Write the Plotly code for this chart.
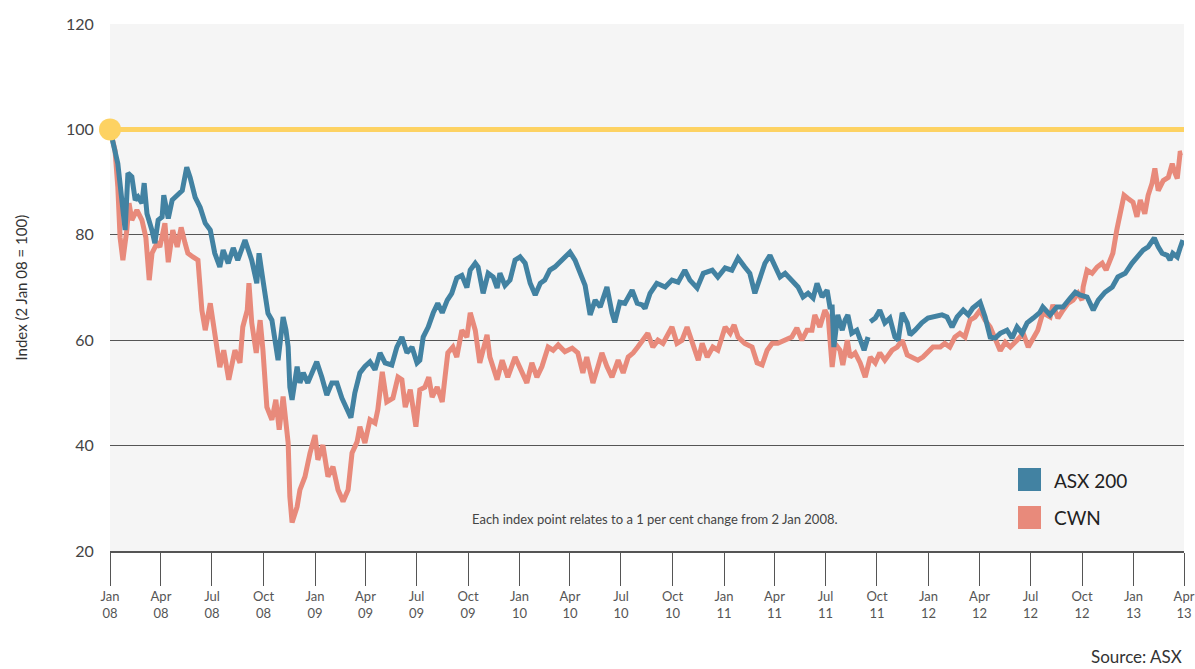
import pandas as pd
import plotly.graph_objects as go

# ---- data (days since 1 Jan 2008, index value) ----
asx_day = [0, 5, 14, 27, 32, 39, 45, 50, 57, 61, 66, 75, 80, 86, 93, 96, 104, 111, 120, 129,
           137, 143, 152, 161, 170, 179, 187, 196, 202, 211, 220, 228, 241, 253, 262, 266, 273, 282, 289, 295,
           300, 309, 314, 318, 321, 325, 334, 339, 345, 353, 361, 369, 378, 387, 396, 405, 414, 423, 430, 437,
           446, 455, 464, 473, 482, 491, 503, 512, 521, 530, 539, 548, 553, 559, 568, 577, 585, 593, 602, 610,
           619, 628, 637, 643, 652, 657, 666, 675, 684, 691, 696, 705, 714, 723, 732, 741, 750, 759, 768, 776,
           785, 794, 807, 821, 830, 839, 848, 857, 866, 875, 887, 896, 901, 910, 919, 932, 941, 950, 955, 964,
           976, 991, 1003, 1014, 1026, 1035, 1048, 1059, 1075, 1085, 1098, 1110, 1121, 1133, 1142, 1151, 1160, 1169, 1178, 1187,
           1196, 1205, 1217, 1228, 1237, 1246, 1255, 1262, 1271, 1280, 1285, 1289, 1292, 1299, 1307, 1312, 1317, 1324, 1333, 1339,
           1346, 1353, 1355, 1357, 1366, 1374, 1383, 1392, 1401, 1407, 1414, 1423, 1428, 1437, 1449, 1460, 1473, 1485, 1494, 1503,
           1512, 1523, 1532, 1540, 1553, 1562, 1571, 1580, 1589, 1601, 1610, 1619, 1628, 1637, 1648, 1660, 1665, 1678, 1690, 1701,
           1714, 1723, 1731, 1744, 1755, 1764, 1776, 1789, 1799, 1812, 1824, 1833, 1844, 1853, 1864, 1871, 1878, 1887, 1892, 1897,
           1905, 1910, 1915]
asx_val = [100, 97.9, 93.5, 80.9, 91.7, 91.0, 86.6, 87.2, 86.0, 89.8, 84.0, 80.8, 78.4, 82.8, 83.4, 87.5, 83.1, 86.6, 87.5, 88.4,
           92.8, 90.9, 87.1, 85.2, 82.2, 80.9, 76.5, 73.9, 77.1, 74.6, 77.5, 75.2, 79.0, 75.2, 70.8, 76.5, 71.4, 65.1, 63.8, 60.0,
           56.2, 64.4, 62.0, 58.7, 51.1, 48.7, 55.0, 51.9, 53.8, 51.9, 54.0, 55.9, 53.0, 49.6, 51.9, 51.9, 49.0, 46.8, 45.3, 50.0,
           53.8, 55.0, 55.9, 54.4, 57.6, 55.7, 55.3, 58.7, 60.6, 57.6, 58.7, 55.7, 56.2, 60.6, 62.5, 65.2, 67.0, 65.2, 67.6, 68.9,
           71.8, 72.3, 70.0, 73.3, 74.6, 73.9, 68.9, 72.7, 72.0, 69.9, 72.7, 70.4, 71.4, 75.2, 75.8, 74.6, 70.8, 68.6, 70.8, 71.4,
           73.3, 73.9, 75.2, 76.7, 75.2, 72.7, 70.4, 64.8, 67.6, 66.3, 70.1, 65.2, 63.4, 67.2, 67.0, 69.5, 67.0, 66.7, 66.0, 68.9,
           70.8, 70.1, 71.4, 71.0, 73.3, 71.4, 69.9, 72.7, 73.3, 72.0, 73.7, 73.3, 75.6, 73.9, 72.7, 68.9, 72.0, 74.6, 76.1, 73.9,
           72.0, 72.7, 71.4, 70.1, 68.2, 68.9, 68.0, 70.8, 68.2, 69.5, 66.3, 66.3, 58.7, 64.8, 61.9, 63.8, 64.8, 61.3, 61.9, 60.0,
           58.1, 60.6, None, 63.5, 64.2, 65.7, 63.3, 64.2, 60.6, 60.0, 65.2, 63.3, 61.0, 61.9, 63.3, 64.2, 64.4, 64.8, 64.4, 62.5,
           64.4, 65.7, 64.8, 66.1, 67.2, 64.4, 60.6, 60.4, 61.3, 61.9, 60.4, 62.5, 61.3, 63.3, 64.2, 65.3, 66.3, 64.8, 66.3, 66.3,
           68.0, 69.1, 68.6, 68.2, 65.7, 67.6, 69.1, 70.1, 72.0, 72.7, 74.6, 75.6, 77.1, 77.7, 79.4, 77.7, 76.5, 76.1, 75.2, 76.5,
           75.8, 77.5, 79.0]

cwn_day = [0, 9, 14, 18, 23, 30, 34, 39, 48, 57, 64, 70, 75, 84, 89, 98, 104, 112, 120, 127,
           134, 139, 148, 157, 164, 170, 179, 187, 196, 203, 212, 223, 232, 237, 245, 248, 253, 261, 268, 273,
           280, 289, 296, 302, 309, 318, 321, 325, 334, 339, 348, 357, 366, 371, 380, 389, 398, 407, 416, 425,
           432, 441, 446, 455, 464, 473, 478, 486, 494, 505, 514, 521, 527, 536, 546, 553, 562, 569, 575, 584,
           593, 598, 603, 612, 619, 628, 637, 643, 652, 660, 666, 673, 678, 691, 700, 710, 723, 735, 744, 753,
           762, 771, 782, 791, 800, 812, 825, 835, 844, 851, 862, 871, 878, 887, 896, 907, 916, 925, 934, 942,
           951, 960, 969, 978, 987, 996, 1003, 1012, 1021, 1030, 1039, 1050, 1057, 1066, 1076, 1085, 1098, 1107, 1114, 1121,
           1133, 1146, 1155, 1164, 1173, 1182, 1192, 1205, 1217, 1226, 1235, 1244, 1253, 1258, 1267, 1276, 1282, 1289, 1294, 1303,
           1308, 1316, 1321, 1330, 1339, 1348, 1357, 1366, 1374, 1383, 1396, 1405, 1414, 1423, 1432, 1442, 1451, 1460, 1469, 1482,
           1490, 1499, 1508, 1517, 1526, 1535, 1544, 1553, 1562, 1571, 1580, 1589, 1598, 1607, 1619, 1630, 1639, 1648, 1656, 1665,
           1678, 1683, 1692, 1701, 1710, 1719, 1728, 1735, 1737, 1744, 1753, 1762, 1771, 1778, 1785, 1790, 1797, 1803, 1810, 1817,
           1826, 1833, 1839, 1847, 1853, 1860, 1865, 1871, 1880, 1889, 1896, 1901, 1905, 1910, 1914]
cwn_val = [100, 96.0, 89.0, 79.5, 75.2, 80.9, 86.0, 82.8, 84.7, 82.8, 79.5, 71.4, 76.5, 78.4, 77.7, 82.2, 74.8, 80.9, 77.7, 81.4,
           78.4, 76.5, 75.8, 75.2, 65.7, 61.9, 67.0, 60.6, 54.9, 58.1, 52.5, 58.1, 55.7, 62.5, 65.7, 70.8, 63.3, 57.6, 63.8, 58.1,
           47.3, 44.9, 48.7, 43.0, 49.3, 40.5, 30.3, 25.4, 28.4, 31.6, 34.1, 38.6, 42.0, 37.3, 40.1, 34.1, 36.0, 31.6, 29.4, 31.6,
           38.6, 40.7, 43.6, 40.5, 44.9, 44.3, 46.8, 54.0, 48.3, 49.0, 53.0, 52.5, 47.3, 50.6, 43.6, 50.6, 51.1, 53.0, 49.2, 51.1,
           48.3, 53.0, 57.6, 58.7, 56.8, 61.9, 60.6, 65.2, 61.9, 55.7, 58.1, 61.0, 56.8, 52.5, 56.2, 53.0, 56.8, 53.8, 51.9, 55.7,
           53.0, 55.0, 58.7, 58.1, 59.1, 57.8, 58.5, 57.6, 53.8, 56.8, 51.9, 55.0, 57.6, 55.0, 53.0, 56.2, 53.8, 56.8, 57.6, 58.7,
           60.0, 61.3, 58.7, 60.0, 59.4, 61.3, 62.5, 59.4, 60.0, 62.5, 59.4, 56.2, 59.4, 56.8, 58.7, 58.1, 62.5, 61.3, 62.9, 60.6,
           59.4, 58.7, 55.7, 55.3, 58.1, 59.4, 59.4, 60.0, 60.6, 62.3, 60.0, 61.9, 61.9, 64.8, 62.5, 65.7, 64.4, 54.9, 59.4, 58.1,
           55.3, 60.0, 56.8, 57.6, 55.7, 53.0, 56.8, 55.7, 57.6, 56.2, 58.1, 58.7, 60.0, 57.2, 56.8, 56.2, 56.8, 57.6, 58.7, 58.7,
           59.4, 58.7, 60.6, 61.3, 60.6, 63.8, 64.4, 65.7, 63.8, 62.5, 60.0, 58.0, 59.6, 58.7, 60.0, 61.3, 58.7, 60.4, 61.9, 65.2,
           64.4, 66.7, 64.2, 65.7, 67.0, 67.6, 68.9, 67.6, 70.1, 73.3, 72.7, 73.9, 74.6, 73.3, 75.2, 76.5, 80.9, 84.0, 87.5, 86.9,
           86.2, 83.4, 86.6, 84.0, 87.5, 89.8, 92.6, 88.4, 90.3, 90.9, 93.5, 91.7, 90.7, 95.5, 95.6]

base_dates = ["2008-01-01", "2013-04-01"]
base_vals = [100, 100]

tick_dates = ["2008-01-01", "2008-04-01", "2008-07-01", "2008-10-01",
              "2009-01-01", "2009-04-01", "2009-07-01", "2009-10-01",
              "2010-01-01", "2010-04-01", "2010-07-01", "2010-10-01",
              "2011-01-01", "2011-04-01", "2011-07-01", "2011-10-01",
              "2012-01-01", "2012-04-01", "2012-07-01", "2012-10-01",
              "2013-01-01", "2013-04-01"]
tick_text = ["Jan<br>08", "Apr<br>08", "Jul<br>08", "Oct<br>08",
             "Jan<br>09", "Apr<br>09", "Jul<br>09", "Oct<br>09",
             "Jan<br>10", "Apr<br>10", "Jul<br>10", "Oct<br>10",
             "Jan<br>11", "Apr<br>11", "Jul<br>11", "Oct<br>11",
             "Jan<br>12", "Apr<br>12", "Jul<br>12", "Oct<br>12",
             "Jan<br>13", "Apr<br>13"]
y_ticks = [20, 40, 60, 80, 100, 120]

BLUE = "#4282a2"
SALMON = "#e88a7b"
YELLOW = "#fdd262"
FONT = "Lato"

origin = pd.Timestamp("2008-01-01")
asx_x = [origin + pd.Timedelta(days=d) for d in asx_day]
cwn_x = [origin + pd.Timedelta(days=d) for d in cwn_day]

fig = go.Figure()
fig.add_trace(go.Scatter(x=cwn_x, y=cwn_val, mode="lines", name="CWN",
                         line=dict(color=SALMON, width=5), connectgaps=False))
fig.add_trace(go.Scatter(x=asx_x, y=asx_val, mode="lines", name="ASX 200",
                         line=dict(color=BLUE, width=5), connectgaps=False))
fig.add_trace(go.Scatter(x=base_dates, y=base_vals, mode="lines",
                         line=dict(color=YELLOW, width=5), showlegend=False))
fig.add_trace(go.Scatter(x=base_dates[:1], y=base_vals[:1], mode="markers",
                         marker=dict(color=YELLOW, size=22, opacity=1, line=dict(width=0)),
                         cliponaxis=False, showlegend=False))

fig.update_layout(
    width=1195, height=669,
    margin=dict(l=110, r=11, t=24, b=118, autoexpand=False),
    paper_bgcolor="white", plot_bgcolor="#f5f5f5",
    showlegend=False,
    font=dict(family=FONT, color="#444"),
    xaxis=dict(type="date", range=["2008-01-01", "2013-04-01"],
               tickvals=tick_dates, ticktext=tick_text, automargin=False,
               ticks="outside", ticklen=33, tickcolor="#555", tickwidth=1,
               showgrid=False, showline=True, linecolor="#555", linewidth=1.5,
               tickfont=dict(size=13, color="#555", family=FONT), zeroline=False),
    yaxis=dict(range=[20, 120], tickvals=y_ticks, automargin=False,
               showgrid=True, gridcolor="#555", gridwidth=1,
               ticks="outside", ticklen=12, tickcolor="rgba(0,0,0,0)",
               tickfont=dict(size=16, color="#444", family=FONT),
               showline=False, zeroline=False),
)

def px_x(p):
    return (p - 110) / 1074

def px_y(p):
    return (551 - p) / 527

# legend squares and labels
for (top, bot, col, label, cy) in [(468, 491, BLUE, "ASX 200", 480), (506, 529, SALMON, "CWN", 517)]:
    fig.add_shape(type="rect", xref="paper", yref="paper",
                  x0=px_x(1018), x1=px_x(1041), y0=px_y(bot), y1=px_y(top),
                  fillcolor=col, line=dict(width=0))
    fig.add_annotation(xref="paper", yref="paper", x=px_x(1052), y=px_y(cy),
                       text=label, showarrow=False, xanchor="left", yanchor="middle",
                       font=dict(size=19, color="#222", family=FONT))

fig.add_annotation(xref="paper", yref="paper", x=px_x(655), y=px_y(519),
                   text="Each index point relates to a 1 per cent change from 2 Jan 2008.",
                   showarrow=False, xanchor="center", yanchor="middle",
                   font=dict(size=13, color="#444", family=FONT))

fig.add_annotation(xref="paper", yref="paper", x=1.0, y=px_y(656),
                   text="Source: ASX", showarrow=False, xanchor="right", yanchor="middle",
                   font=dict(size=17, color="#333", family=FONT))

fig.add_annotation(xref="paper", yref="paper", x=px_x(20), y=0.5,
                   text="Index (2 Jan 08 = 100)", textangle=-90, showarrow=False,
                   xanchor="center", yanchor="middle",
                   font=dict(size=15, color="#333", family=FONT))

fig.write_html("out.html", config={"displayModeBar": False},
               post_script="document.body.style.margin='0';")
